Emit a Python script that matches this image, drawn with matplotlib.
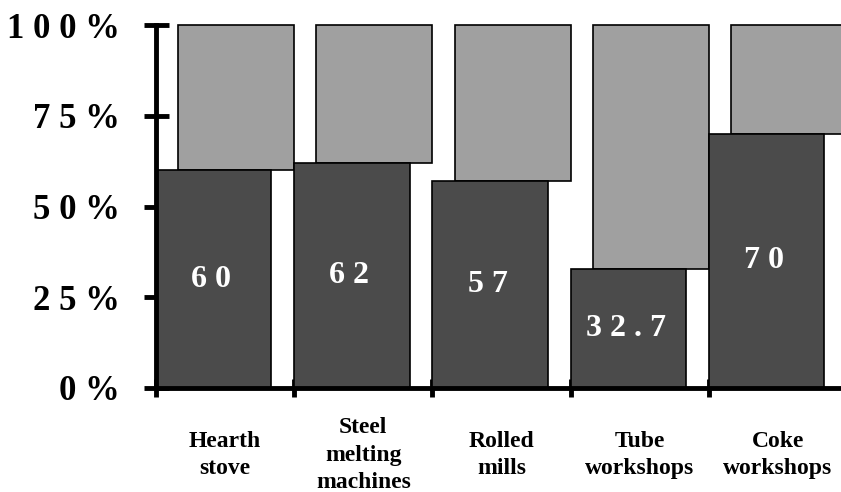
import numpy as np
import matplotlib.pyplot as plt
from matplotlib.transforms import blended_transform_factory

# Data
categories = ['Hearth\nstove', 'Steel\nmelting\nmachines', 'Rolled\nmills',
              'Tube\nworkshops', 'Coke\nworkshops']
dark_values = [60, 62, 57, 32.7, 70]
value_labels = ['6 0', '6 2', '5 7', '3 2 . 7', '7 0']
ytick_values = [0, 25, 50, 75, 100]
ytick_labels = ['0 %', '2 5 %', '5 0 %', '7 5 %', '1 0 0 %']

plt.rcParams['font.family'] = ['Liberation Serif', 'DejaVu Serif']
plt.rcParams['font.weight'] = 'bold'

fig = plt.figure(figsize=(8.41, 4.92), dpi=100)
ax = fig.add_axes([156 / 841, 104 / 492, 691 / 841, 363 / 492])

x = np.arange(len(categories))
dark = np.array(dark_values)
light = 100 - dark

# light (rest) bars, offset to the right
ax.bar(x + 0.16, light, bottom=dark, width=0.84, align='edge',
       color='#a0a0a0', edgecolor='black', linewidth=1.2, zorder=1, clip_on=False)
# dark bars
ax.bar(x, dark, width=0.835, align='edge',
       color='#4b4b4b', edgecolor='black', linewidth=1.2, zorder=2, clip_on=False)

for xi, v, lab in zip(x, dark, value_labels):
    ax.text(xi + 0.4, v / 2, lab, color='white', fontsize=23, fontweight='bold',
            ha='center', va='center', zorder=3)

trans = blended_transform_factory(ax.transData, ax.transAxes)
for xi, cat in zip(x, categories):
    ax.text(xi + 0.5, -0.185, cat, transform=trans, fontsize=17, fontweight='bold',
            ha='center', va='center', multialignment='center', linespacing=1.4)

ax.set_xlim(0, len(categories))
ax.set_ylim(0, 100)
ax.set_yticks(ytick_values)
ax.set_yticklabels(ytick_labels, fontsize=25, fontweight='bold')
ax.set_xticks(np.arange(len(categories) + 1))
ax.set_xticklabels([])

ax.spines['top'].set_visible(False)
ax.spines['right'].set_visible(False)
ax.spines['left'].set_linewidth(3.5)
ax.spines['bottom'].set_linewidth(3.5)
ax.spines['left'].set_zorder(4)
ax.spines['bottom'].set_zorder(4)
ax.tick_params(axis='y', direction='inout', length=18, width=3.5, pad=17)
ax.tick_params(axis='x', direction='inout', length=13, width=3.5)

plt.savefig('out.png', dpi=100)
